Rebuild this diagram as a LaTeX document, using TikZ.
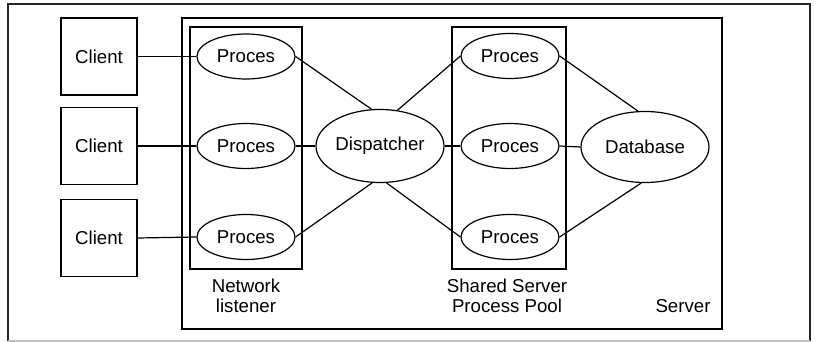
\documentclass[tikz,border=0pt]{standalone}
\usepackage{fontspec}
\setmainfont{Liberation Sans}
\usetikzlibrary{shapes.geometric}

\tikzset{
  px/.style={x=0.75pt, y=-0.75pt},
  label text/.style={font=\fontsize{14}{15}\selectfont, align=center, inner sep=0pt},
  client/.style={draw, line width=1.1pt, minimum width=57pt, minimum height=57.75pt,
    inner sep=0pt, font=\fontsize{14}{15}\selectfont},
  proc/.style={draw, ellipse, line width=0.9pt, minimum width=73.5pt, minimum height=33.75pt,
    inner sep=0pt, font=\fontsize{14}{15}\selectfont},
  bigell/.style={draw, ellipse, line width=0.9pt, minimum width=96pt, minimum height=54pt,
    inner sep=0pt, font=\fontsize{14}{15}\selectfont},
  container/.style={draw, line width=1.1pt},
  link/.style={line width=0.9pt},
}

\begin{document}
\begin{tikzpicture}[px]
  \useasboundingbox (0,0) rectangle (816,342);

  % outer frame
  \draw[line width=0.8pt, black!85] (8,341) -- (8,4) -- (810,4) -- (810,341);
  \draw[line width=0.8pt, black!25] (8,341) -- (810,341);

  % server and the two process groups
  \draw[container] (182,18) rectangle (722,329);
  \draw[container] (190,27) rectangle (302,269);
  \draw[container] (452,27) rectangle (566,269);

  % clients
  \node[client] (c1) at (99,56.5) {Client};
  \node[client] (c2) at (99,146) {Client};
  \node[client] (c3) at (99,238) {Client};

  % network listener processes
  \node[proc] (p1) at (246,56.5) {Proces};
  \node[proc] (p2) at (246,146) {Proces};
  \node[proc] (p3) at (246,237) {Proces};

  % dispatcher
  \node[bigell, minimum height=54.75pt] (disp) at (380,146) {Dispatcher};

  % shared server processes
  \node[proc] (q1) at (510,56) {Proces};
  \node[proc] (q2) at (510,146) {Proces};
  \node[proc] (q3) at (510,237) {Proces};

  % database
  \node[bigell, minimum height=53.25pt] (db) at (645,147) {Database};

  % labels
  \node[label text] (lnet) at (246,296) {Network\\listener};
  \node[label text] (lpool) at (507,296) {Shared Server\\Process Pool};
  \node[label text] (lsrv) at (683,306) {Server};

  % connections
  \draw[link] (c1.east) -- (p1.west);
  \draw[link] (c2.east) -- (p2.west);
  \draw[link] (c3.east) -- (p3.west);

  \draw[link] (p1.east) -- (disp.103);
  \draw[link] (p2.east) -- (disp.west);
  \draw[link] (p3.east) -- (disp.258);

  \draw[link] (disp.64) -- (q1.west);
  \draw[link] (disp.east) -- (q2.west);
  \draw[link] (disp.280) -- (q3.west);

  \draw[link] (q1.east) -- (db.101);
  \draw[link] (q2.east) -- (db.west);
  \draw[link] (q3.east) -- (db.264);
\end{tikzpicture}
\end{document}
